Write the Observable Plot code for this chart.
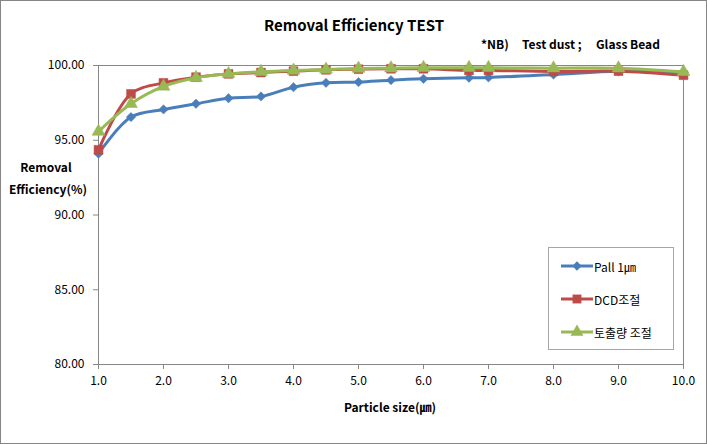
<!DOCTYPE html>
<html><head><meta charset="utf-8">
<script src="https://cdn.jsdelivr.net/npm/d3@7"></script>
<script src="https://cdn.jsdelivr.net/npm/@observablehq/plot@0.6"></script>
<style>
body{margin:0;background:#fff;}
#wrap{position:relative;width:707px;height:444px;font-family:"Noto Sans CJK KR","Noto Sans",sans-serif;color:#000;}
#wrap > svg{position:absolute;left:0;top:0;}
.t{position:absolute;white-space:nowrap;font-weight:bold;}
#border{position:absolute;left:0;top:0;width:705px;height:442px;border:1px solid #868686;pointer-events:none;}
#legend{position:absolute;left:548px;top:247px;width:124px;height:101px;border:1px solid #a6a6a6;background:#fff;}
.li{position:absolute;left:12px;height:20px;display:flex;align-items:center;font-size:12px;}
</style></head>
<body>
<div id="wrap"></div>
<script>
const sizes = [1.0, 1.5, 2.0, 2.5, 3.0, 3.5, 4.0, 4.5, 5.0, 5.5, 6.0, 6.7, 7.0, 8.0, 9.0, 10.0];
const pall = [94.10, 96.55, 97.06, 97.44, 97.81, 97.93, 98.55, 98.84, 98.89, 99.02, 99.11, 99.18, 99.20, 99.40, 99.62, 99.55];
const dcd  = [94.36, 98.10, 98.84, 99.22, 99.44, 99.53, 99.62, 99.71, 99.75, 99.78, 99.78, 99.67, 99.67, 99.60, 99.62, 99.35];
const tochul = [95.58, 97.44, 98.60, 99.18, 99.44, 99.58, 99.67, 99.73, 99.80, 99.82, 99.85, 99.85, 99.85, 99.82, 99.82, 99.58];
const seriesNames = ["Pall 1㎛", "DCD조절", "토출량 조절"];
const colors = ["#4a7ebb", "#be4b48", "#98b954"];
const symbols = ["diamond2", "square", "triangle"];
const radii = [4.2, 5.0, 4.8];
const xTicks = [1, 2, 3, 4, 5, 6, 7, 8, 9, 10];
const yTicks = [80, 85, 90, 95, 100];

const allSeries = [pall, dcd, tochul];
const marks = [
  Plot.ruleY([100], {stroke: "#868686"}),
  Plot.ruleX([10], {stroke: "#868686"}),
  Plot.ruleY([80], {stroke: "#868686"}),
  Plot.ruleX([1], {stroke: "#868686"}),
  Plot.axisX({ticks: xTicks, tickFormat: d => d.toFixed(1), tickSize: 5, tickPadding: 7, stroke: "#868686", color: "#000", label: null, fontSize: 12}),
  Plot.axisY({ticks: yTicks, tickFormat: d => d.toFixed(2), tickSize: 5, tickPadding: 9, stroke: "#868686", color: "#000", label: null, fontSize: 12})
];
allSeries.forEach((vals, i) => {
  const data = sizes.map((s, j) => ({x: s, y: vals[j]}));
  marks.push(Plot.line(data, {x: "x", y: "y", stroke: colors[i], strokeWidth: 3, curve: "catmull-rom"}));
  marks.push(Plot.dot(data, {x: "x", y: "y", fill: colors[i], stroke: colors[i], strokeWidth: 0.5, symbol: symbols[i], r: radii[i]}));
});

const chart = Plot.plot({
  width: 707, height: 444,
  marginLeft: 98, marginRight: 24, marginTop: 65, marginBottom: 80,
  x: {domain: [1, 10]},
  y: {domain: [80, 100]},
  style: {fontFamily: '"Noto Sans CJK KR","Noto Sans",sans-serif', fontSize: "12px", background: "transparent", overflow: "visible"},
  marks
});
const wrap = document.getElementById("wrap");
wrap.appendChild(chart);

function addText(txt, left, top, size, extra) {
  const d = document.createElement("div");
  d.className = "t";
  d.textContent = txt;
  d.style.fontSize = size + "px";
  d.style.left = left + "px";
  d.style.top = top + "px";
  if (extra) Object.assign(d.style, extra);
  wrap.appendChild(d);
  return d;
}
addText("Removal Efficiency TEST", 354, 14, 15, {transform: "translateX(-50%)"});
addText("*NB)", 481, 35, 12);
addText("Test dust ;", 522, 35, 12);
addText("Glass Bead", 596, 35, 12);
addText("Removal", 46, 158, 12, {transform: "translateX(-50%)"});
addText("Efficiency(%)", 48, 180, 12, {transform: "translateX(-50%)"});
addText("Particle size(㎛)", 390, 398, 12, {transform: "translateX(-50%)"});

const legend = document.createElement("div");
legend.id = "legend";
const tops = [8, 41, 74];
seriesNames.forEach((n, i) => {
  const li = document.createElement("div");
  li.className = "li";
  li.style.top = tops[i] + "px";
  const symType = i === 0 ? d3.symbolDiamond2 : i === 1 ? d3.symbolSquare : d3.symbolTriangle;
  const sym = d3.symbol(symType, Math.PI * radii[i] * radii[i])();
  li.innerHTML = `<svg width="32" height="20" style="display:block"><line x1="0" x2="32" y1="10" y2="10" stroke="${colors[i]}" stroke-width="3"/><path transform="translate(16,10)" d="${sym}" fill="${colors[i]}"/></svg><span style="margin-left:1px">${n}</span>`;
  legend.appendChild(li);
});
wrap.appendChild(legend);
const b = document.createElement("div");
b.id = "border";
wrap.appendChild(b);
</script>
</body></html>
